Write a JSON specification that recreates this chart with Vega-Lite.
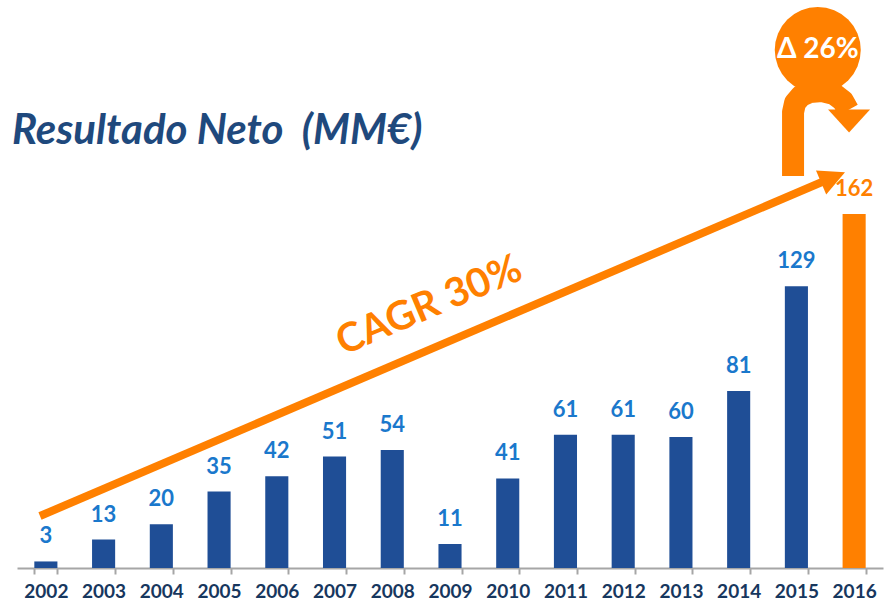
{
  "$schema": "https://vega.github.io/schema/vega-lite/v6.json",
  "autosize": {"type": "none"},
  "width": 866,
  "height": 568,
  "padding": {"left": 17, "top": 0, "right": 3, "bottom": 38},
  "background": "white",
  "config": {"view": {"stroke": null}, "font": "Lato"},
  "title": {
    "text": "Resultado Neto \u00a0(MM€)",
    "anchor": "start",
    "frame": "group",
    "font": "Lato",
    "fontSize": 42,
    "fontStyle": "italic",
    "fontWeight": "bold",
    "color": "#1F497D",
    "baseline": "alphabetic",
    "offset": 0,
    "dx": -5,
    "dy": 186
  },
  "layer": [
    {
      "data": {"values": [
        {"year": "2002", "value": 3},
        {"year": "2003", "value": 13},
        {"year": "2004", "value": 20},
        {"year": "2005", "value": 35},
        {"year": "2006", "value": 42},
        {"year": "2007", "value": 51},
        {"year": "2008", "value": 54},
        {"year": "2009", "value": 11},
        {"year": "2010", "value": 41},
        {"year": "2011", "value": 61},
        {"year": "2012", "value": 61},
        {"year": "2013", "value": 60},
        {"year": "2014", "value": 81},
        {"year": "2015", "value": 129},
        {"year": "2016", "value": 162}
      ]},
      "encoding": {
        "x": {
          "field": "year", "type": "nominal", "sort": null,
          "scale": {"paddingInner": 0.6, "paddingOuter": 0.3},
          "axis": {
            "title": null, "labelAngle": 0, "grid": false,
            "domainColor": "#a6a6a6", "domainWidth": 2,
            "tickColor": "#a6a6a6", "tickWidth": 2, "tickSize": 6, "tickBand": "extent",
            "labelFont": "Lato", "labelFontWeight": "bold", "labelFontSize": 19,
            "labelColor": "#17375E", "labelPadding": 8
          }
        },
        "y": {"field": "value", "type": "quantitative", "scale": {"domain": [0, 260], "nice": false}, "axis": null}
      },
      "layer": [
        {
          "mark": {"type": "bar"},
          "encoding": {
            "color": {"condition": {"test": "datum.year == '2016'", "value": "#FF8000"}, "value": "#1F4E96"}
          }
        },
        {
          "mark": {"type": "text", "baseline": "alphabetic", "dy": -18, "font": "Lato", "fontSize": 22, "fontWeight": "bold"},
          "encoding": {
            "text": {"field": "value", "type": "quantitative"},
            "color": {"condition": {"test": "datum.year == '2016'", "value": "#FF8000"}, "value": "#1A78CC"}
          }
        }
      ]
    },
    {
      "data": {"values": [{"xa": 2001.898, "ya": 23.8, "xb": 2015.444, "yb": 176.7}]},
      "mark": {"type": "rule", "color": "#FF8000", "strokeWidth": 8, "strokeCap": "butt"},
      "encoding": {
        "x": {"field": "xa", "type": "quantitative", "scale": {"domain": [2001.5, 2016.5], "nice": false, "zero": false}, "axis": null},
        "x2": {"field": "xb"},
        "y": {"field": "ya", "type": "quantitative", "scale": {"domain": [0, 260], "nice": false}, "axis": null},
        "y2": {"field": "yb"}
      }
    },
    {
      "data": {"values": [{"xp": 2015.635, "yp": 178.8}]},
      "mark": {"type": "point", "filled": true, "opacity": 1, "color": "#FF8000", "shape": "M1,0L-1,-1L-1,1Z", "size": 676, "angle": 336.9},
      "encoding": {
        "x": {"field": "xp", "type": "quantitative", "scale": {"domain": [2001.5, 2016.5], "nice": false, "zero": false}, "axis": null},
        "y": {"field": "yp", "type": "quantitative", "scale": {"domain": [0, 260], "nice": false}, "axis": null}
      }
    },
    {
      "data": {"values": [
        {"i": 1, "xp": 2014.942, "yp": 179.4},
        {"i": 2, "xp": 2014.942, "yp": 208.7},
        {"i": 3, "xp": 2014.977, "yp": 212.9},
        {"i": 4, "xp": 2015.080, "yp": 216.1},
        {"i": 5, "xp": 2015.236, "yp": 217.9},
        {"i": 6, "xp": 2015.444, "yp": 218.3},
        {"i": 7, "xp": 2015.652, "yp": 217.0},
        {"i": 8, "xp": 2015.808, "yp": 213.8},
        {"i": 9, "xp": 2015.895, "yp": 209.6}
      ]},
      "mark": {"type": "line", "color": "#FF8000", "strokeWidth": 22, "strokeCap": "butt", "strokeJoin": "round"},
      "encoding": {
        "x": {"field": "xp", "type": "quantitative", "scale": {"domain": [2001.5, 2016.5], "nice": false, "zero": false}, "axis": null},
        "y": {"field": "yp", "type": "quantitative", "scale": {"domain": [0, 260], "nice": false}, "axis": null},
        "order": {"field": "i", "type": "quantitative"}
      }
    },
    {
      "data": {"values": [{"xp": 2015.912, "yp": 205.1}]},
      "mark": {"type": "point", "filled": true, "opacity": 1, "color": "#FF8000", "shape": "M-1,-0.5L1,-0.5L0,0.6Z", "size": 1764},
      "encoding": {
        "x": {"field": "xp", "type": "quantitative", "scale": {"domain": [2001.5, 2016.5], "nice": false, "zero": false}, "axis": null},
        "y": {"field": "yp", "type": "quantitative", "scale": {"domain": [0, 260], "nice": false}, "axis": null}
      }
    },
    {
      "data": {"values": [{"xp": 2015.37, "yp": 237.1, "label": "Δ 26%"}]},
      "encoding": {
        "x": {"field": "xp", "type": "quantitative", "scale": {"domain": [2001.5, 2016.5], "nice": false, "zero": false}, "axis": null},
        "y": {"field": "yp", "type": "quantitative", "scale": {"domain": [0, 260], "nice": false}, "axis": null}
      },
      "layer": [
        {"mark": {"type": "point", "filled": true, "opacity": 1, "color": "#FF8000", "shape": "circle", "size": 7396}},
        {
          "mark": {"type": "text", "color": "white", "font": "Lato", "fontSize": 28, "fontWeight": "bold", "baseline": "middle", "align": "center"},
          "encoding": {"text": {"field": "label"}}
        }
      ]
    },
    {
      "data": {"values": [{"xp": 2008.64, "yp": 120, "label": "CAGR 30%"}]},
      "mark": {"type": "text", "color": "#FF8000", "font": "Lato", "fontSize": 40, "fontWeight": "bold", "baseline": "middle", "align": "center", "angle": 337},
      "encoding": {
        "x": {"field": "xp", "type": "quantitative", "scale": {"domain": [2001.5, 2016.5], "nice": false, "zero": false}, "axis": null},
        "y": {"field": "yp", "type": "quantitative", "scale": {"domain": [0, 260], "nice": false}, "axis": null},
        "text": {"field": "label"}
      }
    }
  ],
  "resolve": {"scale": {"x": "independent"}}
}
